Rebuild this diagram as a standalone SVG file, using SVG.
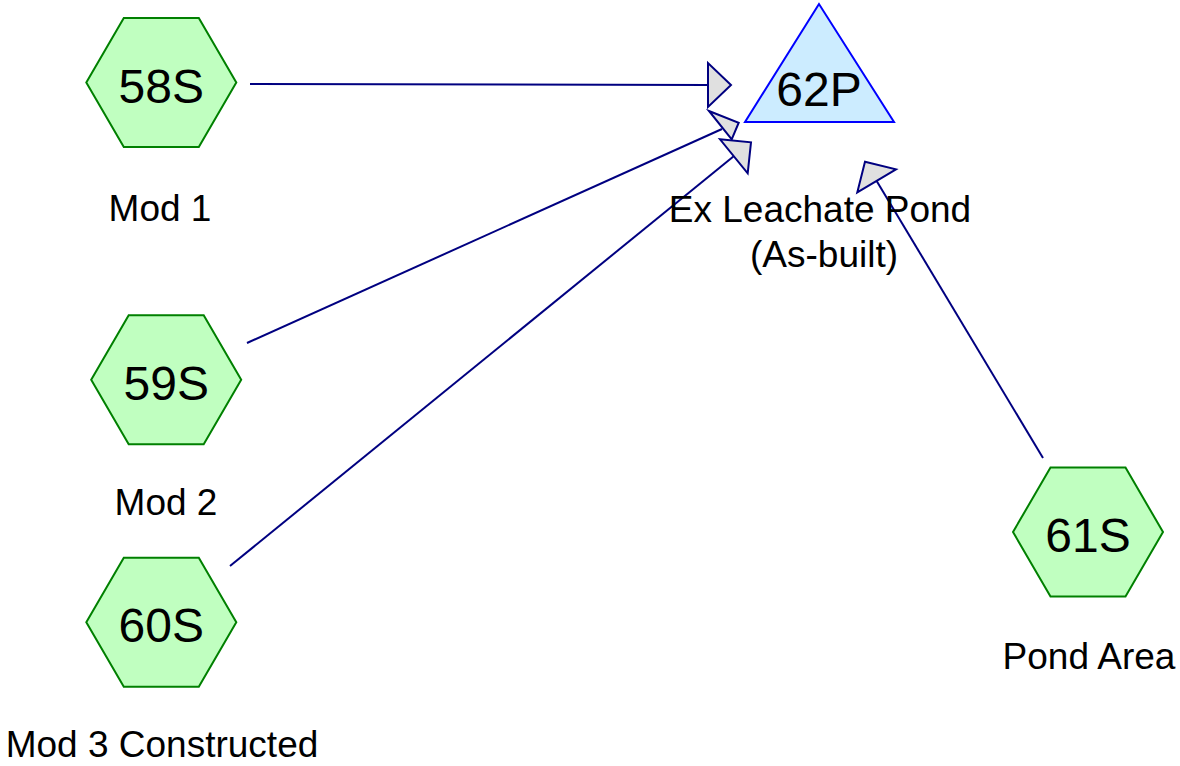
<svg xmlns="http://www.w3.org/2000/svg" width="1180" height="766" viewBox="0 0 1180 766">
<style>
.hex{fill:#c0ffc0;stroke:#008000;stroke-width:2}
.pond{fill:#ccecff;stroke:#0000ff;stroke-width:2}
.id{font-family:"Liberation Sans",Arial,sans-serif;font-size:48px;fill:#000;text-anchor:middle}
.lbl{font-family:"Liberation Sans",Arial,sans-serif;font-size:37px;fill:#000;text-anchor:middle}
.edge{stroke:#000080;stroke-width:2;fill:none}
.head{fill:#e0e0e0;stroke:#000080;stroke-width:2;stroke-linejoin:miter}
</style>
<rect width="1180" height="766" fill="#fff"/>
<g id="connectors">
<line class="edge" x1="250" y1="84" x2="708" y2="85"/>
<polygon class="head" points="708,63 708,107 731,85"/>
<line class="edge" x1="247" y1="343" x2="722" y2="129"/>
<polygon class="head" points="709,111 738.7,122.7 731.7,139.3"/>
<line class="edge" x1="230" y1="566" x2="734" y2="156"/>
<polygon class="head" points="720,139.3 751,142.3 747.7,173.3"/>
<line class="edge" x1="1043" y1="458" x2="876.5" y2="180.7"/>
<polygon class="head" points="865,161.7 896,169.3 857.3,192.3"/>
</g>
<g id="node-62P">
<polygon class="pond" points="819,4 745,122 894,122"/>
<text class="id" x="819" y="106">62P</text>
<text class="lbl" x="820" y="222">Ex Leachate Pond</text>
<text class="lbl" x="824" y="267">(As-built)</text>
</g>
<g id="node-58S">
<polygon class="hex" points="86.3,82.5 123.8,18 198.8,18 236.3,82.5 198.8,147 123.8,147"/>
<text class="id" x="161.3" y="102.7">58S</text>
<text class="lbl" x="160" y="221">Mod 1</text>
</g>
<g id="node-59S">
<polygon class="hex" points="91.2,379.7 128.7,315.2 203.7,315.2 241.2,379.7 203.7,444.2 128.7,444.2"/>
<text class="id" x="166.2" y="400">59S</text>
<text class="lbl" x="166" y="515">Mod 2</text>
</g>
<g id="node-60S">
<polygon class="hex" points="86.3,622.2 123.8,557.7 198.8,557.7 236.3,622.2 198.8,686.7 123.8,686.7"/>
<text class="id" x="161.3" y="641.7">60S</text>
<text class="lbl" x="162" y="757">Mod 3 Constructed</text>
</g>
<g id="node-61S">
<polygon class="hex" points="1013,532 1050.5,467.5 1125.5,467.5 1163,532 1125.5,596.5 1050.5,596.5"/>
<text class="id" x="1088" y="551.7">61S</text>
<text class="lbl" x="1089" y="669">Pond Area</text>
</g>
</svg>
